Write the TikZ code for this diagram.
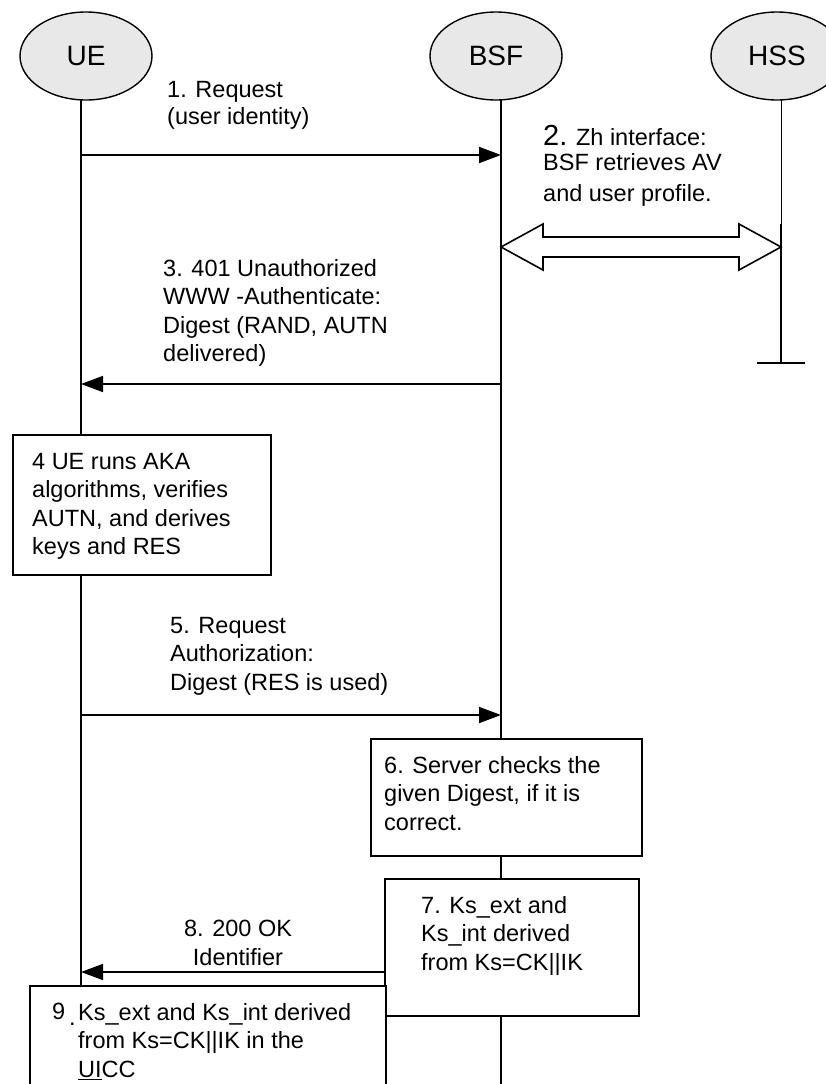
\documentclass[tikz,border=0pt]{standalone}
\usepackage{fontspec}
\setmainfont{Liberation Sans}
\usetikzlibrary{arrows.meta,shapes.geometric}
\begin{document}
\begin{tikzpicture}[x=1pt,y=-1pt,
  every node/.style={font=\fontsize{23.5}{28.5}\selectfont},
  actor/.style={ellipse, draw, line width=1.4pt, fill=black!9, minimum width=132pt, minimum height=88pt, inner sep=0pt, font=\fontsize{28}{30}\selectfont},
  life/.style={line width=1.6pt},
  thinlife/.style={line width=0.9pt},
  msg/.style={line width=1.6pt, -{Triangle[length=22pt,width=16pt]}},
  boxst/.style={draw, line width=1.6pt, fill=white, inner sep=0pt, anchor=north west},
  txt/.style={anchor=north west, inner sep=0pt, align=left},
]
\useasboundingbox (0,0) rectangle (826,1084);
\clip (0,0) rectangle (826,1084);
\fill[white] (0,0) rectangle (826,1084);

% lifeline end points
\coordinate (ueL) at (81,1084);
\coordinate (bsfL) at (501,1084);
\coordinate (hssM) at (781,224);
\coordinate (hssL) at (781,363);
\coordinate (teeA) at (757,363);
\coordinate (teeB) at (805,363);
\coordinate (ueC) at (86,56);
\coordinate (bsfC) at (496,56);
\coordinate (hssC) at (777,56);

% lifelines (drawn first, behind the actors)
\draw[life] (ueC -| ueL) -- (ueL);
\draw[life] (bsfC -| bsfL) -- (bsfL);
\draw[thinlife] (hssC -| hssM) -- (hssM);
\draw[life] (hssM) -- (hssL);
\draw[life] (teeA) -- (teeB);

% actors
\node[actor] (ue) at (ueC) {UE};
\node[actor] (bsf) at (bsfC) {BSF};
\node[actor] (hss) at (hssC) {HSS};

% message 1
\coordinate (m1s) at (81,155);
\coordinate (m1e) at (501,155);
\draw[msg] (m1s) -- (m1e);
\node[txt] (t1) at (167,81) {1. Request\\[-1.5pt](user identity)};

% message 2: Zh interface
\node[txt] (t2) at (543,125) {{\fontsize{29}{29}\selectfont 2.} Zh interface:\\[-3.5pt]BSF retrieves AV\\[2.5pt]and user profile.};
\coordinate (zhL) at (501,247);
\coordinate (zhR) at (781,247);
\draw[line width=1.6pt, fill=white, line join=miter] (zhL) -- ++(42,-23) -- ++(0,13) -- ++(196,0) -- ++(0,-13) -- (zhR)
  -- ++(-42,23) -- ++(0,-13) -- ++(-196,0) -- ++(0,13) -- cycle;

% message 3
\node[txt] (t3) at (163,259) {3. 401 Unauthorized\\WWW -Authenticate:\\Digest (RAND, AUTN\\delivered)};
\coordinate (m3s) at (501,384);
\coordinate (m3e) at (81,384);
\draw[msg] (m3s) -- (m3e);

% box 4
\node[boxst, minimum width=258pt, minimum height=140pt] (b4) at (12,434) {};
\node[txt] (t4) at (32,453) {4 UE runs AKA\\algorithms, verifies\\AUTN, and derives\\keys and RES};

% message 5
\node[txt] (t5) at (170,617) {5. Request\\Authorization:\\Digest (RES is used)};
\coordinate (m5s) at (81,715);
\coordinate (m5e) at (501,715);
\draw[msg] (m5s) -- (m5e);

% box 6
\node[boxst, minimum width=271pt, minimum height=117pt] (b6) at (370,738) {};
\node[txt] (t6) at (384,756) {6. Server checks the\\given Digest, if it is\\correct.};

% box 7
\node[boxst, minimum width=254pt, minimum height=137pt] (b7) at (384,878) {};
\node[txt] (t7) at (421,896) {7. Ks\_ext and\\Ks\_int derived\\from Ks=CK||IK};

% message 8
\coordinate (m8e) at (81,972);
\draw[msg] (b7.west |- m8e) -- (m8e);
\node[anchor=north, inner sep=0pt, align=center] (t8) at (238,920) {8. 200 OK\\Identifier};

% box 9
\node[boxst, minimum width=356pt, minimum height=140pt] (b9) at (29,985) {};
\node[txt] (n9) at (52,1003) {9\,\raisebox{-6pt}{.}};
\node[txt] (t9) at (78,1003) {Ks\_ext and Ks\_int derived\\from Ks=CK||IK in the\\\underline{UI}CC};
\end{tikzpicture}
\end{document}
